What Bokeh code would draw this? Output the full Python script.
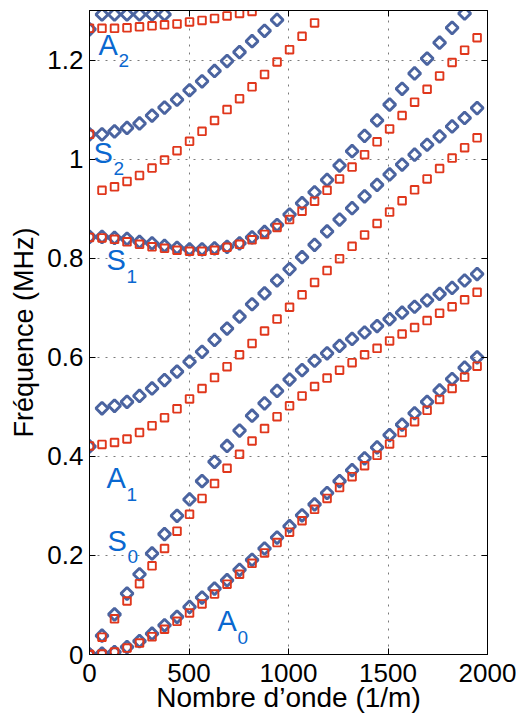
import numpy as np
from bokeh.plotting import figure
from bokeh.models import Range1d, FixedTicker, LinearAxis, CustomJSTickFormatter
from bokeh.core.properties import value
from bokeh.embed import file_html
from bokeh.resources import INLINE

# Wavenumber samples (1/m)
wavenumber = [0.0, 62.8, 125.7, 188.5, 251.3, 314.2, 377.0, 439.8, 502.7, 565.5,
              628.3, 691.2, 754.0, 816.8, 879.6, 942.5, 1005.3, 1068.1, 1131.0, 1193.8,
              1256.6, 1319.5, 1382.3, 1445.1, 1508.0, 1570.8, 1633.6, 1696.5, 1759.3, 1822.1,
              1885.0, 1947.8]

# Blue diamonds (MHz)
blue_A0 = [0.000, 0.002, 0.005, 0.015, 0.027, 0.042, 0.059, 0.076, 0.096, 0.115, 0.133, 0.150,
           0.171, 0.191, 0.214, 0.236, 0.259, 0.281, 0.303, 0.326, 0.350, 0.372, 0.396, 0.418,
           0.443, 0.464, 0.487, 0.510, 0.533, 0.556, 0.579, 0.600]
blue_S0 = [0.000, 0.038, 0.081, 0.123, 0.162, 0.204, 0.243, 0.280, 0.313, 0.350, 0.389, 0.421,
           0.452, 0.482, 0.507, 0.532, 0.555, 0.574, 0.593, 0.608, 0.623, 0.637, 0.650, 0.663,
           0.677, 0.690, 0.702, 0.715, 0.728, 0.740, 0.755, 0.768]
blue_A1 = [0.420, 0.497, 0.502, 0.510, 0.522, 0.537, 0.554, 0.571, 0.591, 0.611, 0.635, 0.658,
           0.682, 0.707, 0.729, 0.755, 0.778, 0.802, 0.827, 0.854, 0.878, 0.901, 0.925, 0.948,
           0.969, 0.989, 1.009, 1.029, 1.046, 1.066, 1.083, 1.103]
blue_S1 = [0.843, 0.843, 0.841, 0.839, 0.833, 0.830, 0.825, 0.821, 0.818, 0.818, 0.820, 0.823,
           0.830, 0.842, 0.853, 0.867, 0.888, 0.911, 0.933, 0.958, 0.987, 1.016, 1.047, 1.078,
           1.110, 1.142, 1.173, 1.203, 1.235, 1.265, 1.294]
blue_S2 = [1.050, 1.050, 1.056, 1.063, 1.072, 1.088, 1.104, 1.120, 1.139, 1.157, 1.178, 1.198,
           1.216, 1.238, 1.259, 1.281]
blue_A2 = [1.262, 1.292, 1.292, 1.292, 1.292, 1.292, 1.292]

# Red squares (MHz)
red_A0 = [0.000, 0.001, 0.005, 0.013, 0.023, 0.036, 0.051, 0.067, 0.084, 0.102, 0.122, 0.142,
          0.162, 0.184, 0.205, 0.226, 0.247, 0.270, 0.293, 0.315, 0.337, 0.359, 0.381, 0.402,
          0.425, 0.448, 0.470, 0.493, 0.515, 0.537, 0.560, 0.582]
red_S0 = [0.000, 0.035, 0.072, 0.108, 0.143, 0.179, 0.214, 0.249, 0.283, 0.315, 0.345, 0.376,
          0.404, 0.431, 0.456, 0.480, 0.502, 0.522, 0.541, 0.558, 0.574, 0.589, 0.605, 0.618,
          0.633, 0.647, 0.660, 0.674, 0.689, 0.702, 0.716, 0.731]
red_A1 = [0.421, 0.424, 0.428, 0.435, 0.448, 0.462, 0.478, 0.496, 0.516, 0.537, 0.559, 0.581,
          0.605, 0.628, 0.653, 0.677, 0.701, 0.726, 0.751, 0.775, 0.799, 0.824, 0.847, 0.870,
          0.893, 0.916, 0.938, 0.960, 0.981, 1.002, 1.023, 1.043]
red_S1 = [0.842, 0.841, 0.838, 0.833, 0.828, 0.823, 0.820, 0.816, 0.814, 0.814, 0.816, 0.822,
          0.828, 0.837, 0.848, 0.862, 0.878, 0.895, 0.915, 0.937, 0.960, 0.984, 1.009, 1.035,
          1.061, 1.088, 1.115, 1.141, 1.168, 1.195, 1.220, 1.245]
red_S2 = [1.050, 0.937, 0.944, 0.955, 0.967, 0.982, 0.998, 1.017, 1.036, 1.056, 1.078, 1.100,
          1.122, 1.146, 1.171, 1.196, 1.221, 1.248, 1.275]
red_A2 = [1.264, 1.264, 1.264, 1.265, 1.267, 1.269, 1.271, 1.273, 1.277, 1.280, 1.284, 1.289,
          1.294, 1.298]

x_ticks = [0, 500, 1000, 1500, 2000]
y_ticks = [0, 0.2, 0.4, 0.6, 0.8, 1.0, 1.2]

# Mode labels
mode_letters = ["A", "S", "S", "A", "S", "A"]
mode_numbers = ["2", "2", "1", "1", "0", "0"]
mode_label_x = [45, 20, 85, 85, 90, 643]
mode_label_y = [1.231, 1.013, 0.796, 0.356, 0.230, 0.067]

BLUE = "#4B64A0"
RED = "#E0371C"
LABEL_BLUE = "#0A68D0"
FONT = "Liberation Sans"

p = figure(width=516, height=718, x_range=Range1d(0, 2000), y_range=Range1d(0, 1.3),
           output_backend="svg", toolbar_location=None,
           min_border_left=89, min_border_right=29, min_border_top=10, min_border_bottom=64)

p.background_fill_color = "white"
p.border_fill_color = "white"
p.outline_line_color = "black"
p.outline_line_width = 1

for ys in [blue_A0, blue_S0, blue_A1, blue_S1, blue_S2, blue_A2]:
    p.scatter(wavenumber[:len(ys)], ys, marker="square", angle=np.pi / 4, size=8.6,
              fill_color=None, line_color=BLUE, line_width=2.9)

for ys in [red_A0, red_S0, red_A1, red_S1, red_S2, red_A2]:
    p.scatter(wavenumber[:len(ys)], ys, marker="square", size=7.6,
              fill_color=None, line_color=RED, line_width=1.9)

p.text(mode_label_x, mode_label_y, text=mode_letters, text_font=value(FONT),
       text_font_size="29px", text_color=LABEL_BLUE, text_align="left",
       text_baseline="alphabetic")
p.text(mode_label_x, mode_label_y, text=mode_numbers, text_font=value(FONT),
       text_font_size="19px", text_color=LABEL_BLUE, text_align="left",
       text_baseline="alphabetic", x_offset=20, y_offset=16)

# axes
p.xaxis.ticker = FixedTicker(ticks=x_ticks)
p.yaxis.ticker = FixedTicker(ticks=y_ticks)
p.yaxis.formatter = CustomJSTickFormatter(code="return Number(tick.toFixed(1)).toString();")
p.xaxis.axis_label = "Nombre d\u2019onde (1/m)"
p.yaxis.axis_label = "Fr\u00e9quence (MHz)"
for ax in [p.xaxis[0], p.yaxis[0]]:
    ax.major_tick_in = 6
    ax.major_tick_out = 0
    ax.minor_tick_line_color = None
    ax.axis_line_color = "black"
    ax.major_tick_line_color = "black"
    ax.major_label_text_font = FONT
    ax.major_label_text_font_size = "26px"
    ax.major_label_text_color = "black"
    ax.axis_label_text_font = FONT
    ax.axis_label_text_font_style = "normal"
    ax.axis_label_text_color = "black"
p.xaxis.axis_label_text_font_size = "28px"
p.yaxis.axis_label_text_font_size = "27px"
p.xaxis.major_label_standoff = 9
p.xaxis.axis_label_standoff = -3
p.yaxis.major_label_standoff = 6
p.yaxis.axis_label_standoff = 5

top_axis = LinearAxis(ticker=FixedTicker(ticks=x_ticks), major_label_text_font_size="1px",
                      major_label_text_color=None,
                      major_tick_in=6, major_tick_out=0, minor_tick_line_color=None,
                      major_label_standoff=0, axis_line_color="black")
right_axis = LinearAxis(ticker=FixedTicker(ticks=y_ticks), major_label_text_font_size="1px",
                        major_label_text_color=None,
                        major_tick_in=6, major_tick_out=0, minor_tick_line_color=None,
                        major_label_standoff=0, axis_line_color="black")
p.add_layout(top_axis, "above")
p.add_layout(right_axis, "right")

p.grid.grid_line_color = "#7a7a7a"
p.grid.grid_line_dash = "2 6"
p.grid.grid_line_width = 1
p.xgrid.ticker = FixedTicker(ticks=x_ticks)
p.ygrid.ticker = FixedTicker(ticks=y_ticks)

open("out.html", "w").write(file_html(p, INLINE))
